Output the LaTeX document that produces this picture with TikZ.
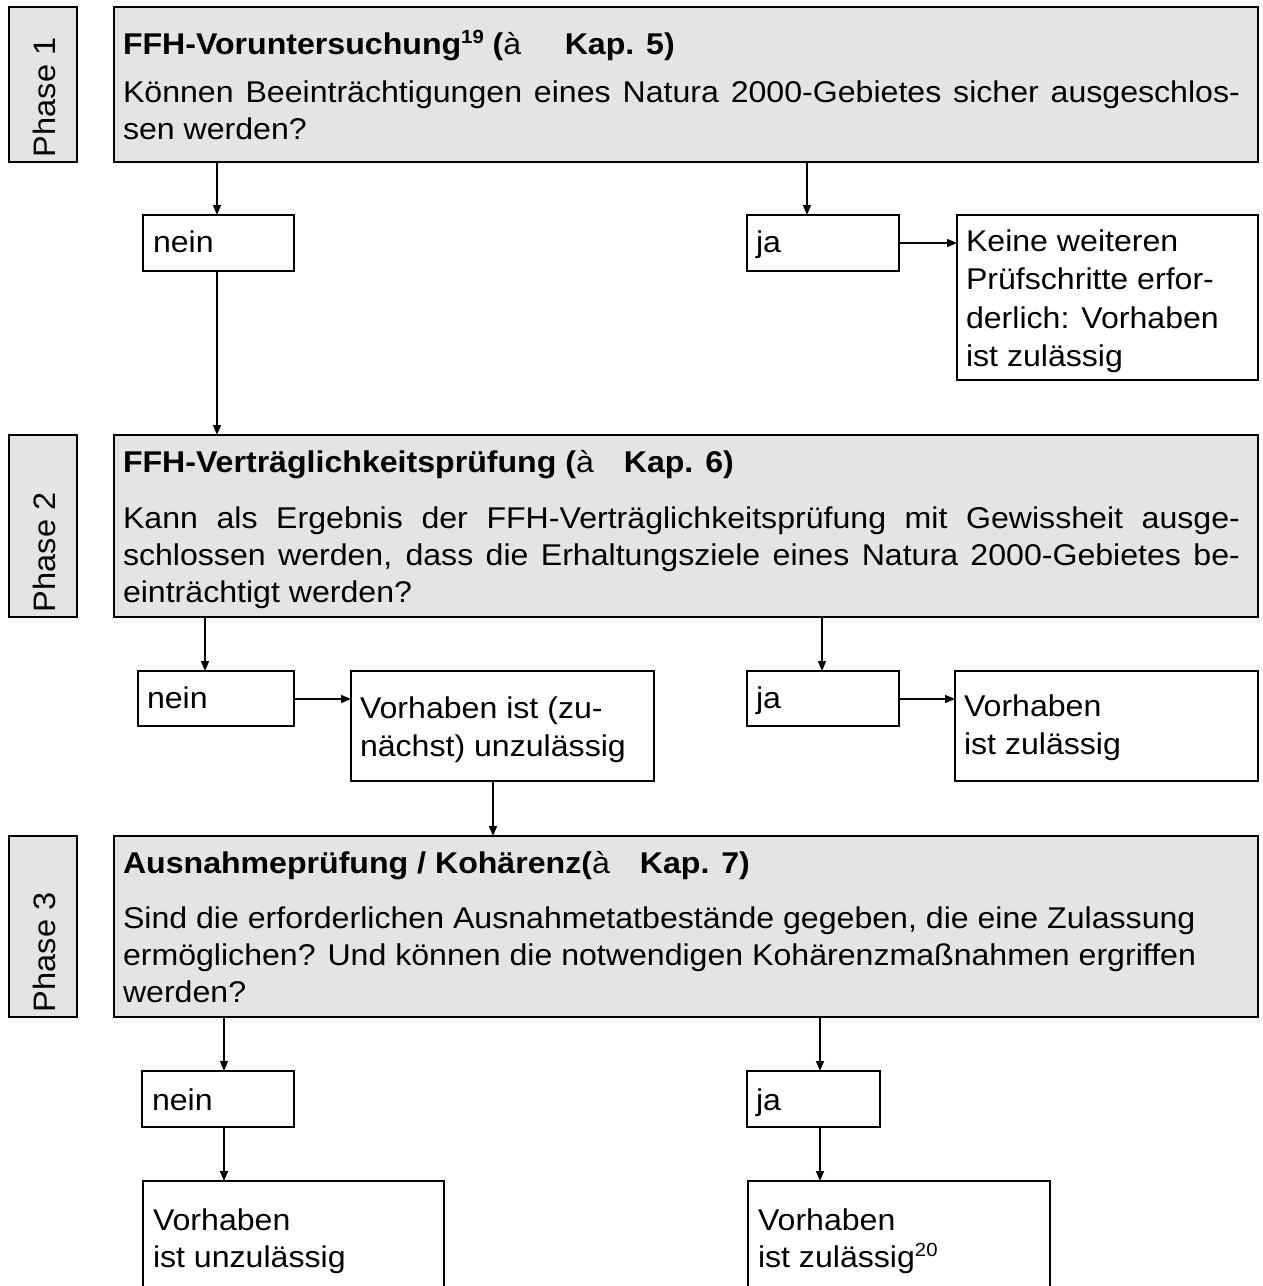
\documentclass[tikz,border=0pt]{standalone}
\usepackage{fontspec}
\setmainfont{Liberation Sans}[FakeStretch=1.07]
\newfontfamily\phasefont{Liberation Sans}[FakeStretch=1.05]
\usetikzlibrary{arrows.meta,calc}
\definecolor{boxgray}{RGB}{228,228,228}
\newcommand\txtsize{\fontsize{30}{37}\selectfont}
\newcommand\resline{\fontsize{30}{38.5}\selectfont}
\newcommand\supnum[1]{\raisebox{11pt}{\fontsize{19}{19}\selectfont #1}}
\newcommand\kap[2][1.0em]{(\textmd{à}\hspace{#1}Kap. #2)}
\tikzset{
  mainbox/.style={draw, line width=2.4pt, fill=boxgray, anchor=north west, inner sep=0pt, outer sep=0pt},
  smallbox/.style={draw, line width=1.8pt, fill=white, anchor=north west, inner sep=0pt, outer sep=0pt},
  openbox/.style={anchor=north west, inner sep=0pt, outer sep=0pt},
  boxline/.style={line width=1.8pt},
  txt/.style={anchor=base west, inner sep=0pt, outer sep=0pt, font=\txtsize},
  phaselbl/.style={rotate=90, anchor=base west, inner sep=0pt, outer sep=0pt, font=\phasefont\fontsize{31}{31}\selectfont},
  arr/.style={line width=1.6pt, -{Triangle[length=10pt,width=8pt]}}
}
\begin{document}
\begin{tikzpicture}[x=1pt,y=-1pt]
\fill[white] (0,0) rectangle (1263,1286);
\useasboundingbox (0,0) rectangle (1263,1286);

% ---------- Phase 1 ----------
\node[mainbox, minimum width=68pt, minimum height=155pt] (p1) at (9,7) {};
\node[phaselbl] (l1) at (55,157) {Phase 1};
\node[mainbox, minimum width=1144pt, minimum height=155pt] (b1) at (114,7) {};
\node[txt] (t1) at (123,54) {\bfseries FFH-Voruntersuchung\supnum{19} \kap[1.45em]{5}};
\node[txt] (q1) at (123,102) {\parbox[t]{1117pt}{\makebox[1117pt][s]{Können Beeinträchtigungen eines Natura 2000-Gebietes sicher ausgeschlos-}\\sen werden?}};

\node[smallbox, minimum width=151pt, minimum height=56pt] (n1) at (143,215) {};
\node[txt] (n1t) at (153,252) {nein};
\node[smallbox, minimum width=152pt, minimum height=56pt] (j1) at (747,215) {};
\node[txt] (j1t) at (756,252) {ja};
\node[smallbox, minimum width=301pt, minimum height=165pt] (r1) at (957,215) {};
\node[txt] (r1t) at (966,251) {\parbox[t]{290pt}{\resline\raggedright Keine weiteren\\Prüfschritte erfor-\\derlich: Vorhaben\\ist zulässig}};

% ---------- Phase 2 ----------
\node[mainbox, minimum width=68pt, minimum height=182pt] (p2) at (9,435) {};
\node[phaselbl] (l2) at (55,612) {Phase 2};
\node[mainbox, minimum width=1144pt, minimum height=182pt] (b2) at (114,435) {};
\node[txt] (t2) at (123,472) {\bfseries FFH-Verträglichkeitsprüfung \kap{6}};
\node[txt] (q2) at (123,528) {\parbox[t]{1117pt}{\makebox[1117pt][s]{Kann als Ergebnis der FFH-Verträglichkeitsprüfung mit Gewissheit ausge-}\\\makebox[1117pt][s]{schlossen werden, dass die Erhaltungsziele eines Natura 2000-Gebietes be-}\\einträchtigt werden?}};

\node[smallbox, minimum width=156pt, minimum height=55pt] (n2) at (138,671) {};
\node[txt] (n2t) at (147,708) {nein};
\node[smallbox, minimum width=303pt, minimum height=110pt] (r2a) at (351,671) {};
\node[txt] (r2at) at (360,718) {\parbox[t]{290pt}{\resline\raggedright Vorhaben ist (zu-\\nächst) unzulässig}};
\node[smallbox, minimum width=152pt, minimum height=55pt] (j2) at (747,671) {};
\node[txt] (j2t) at (756,708) {ja};
\node[smallbox, minimum width=303pt, minimum height=110pt] (r2b) at (955,671) {};
\node[txt] (r2bt) at (964,716) {\parbox[t]{290pt}{\resline\raggedright Vorhaben\\ist zulässig}};

% ---------- Phase 3 ----------
\node[mainbox, minimum width=68pt, minimum height=181pt] (p3) at (9,836) {};
\node[phaselbl] (l3) at (55,1012) {Phase 3};
\node[mainbox, minimum width=1144pt, minimum height=181pt] (b3) at (114,836) {};
\node[txt] (t3) at (123,873) {\bfseries Ausnahmeprüfung / Kohärenz\kap{7}};
\node[txt] (q3) at (123,928) {\parbox[t]{1117pt}{\raggedright Sind die erforderlichen Ausnahmetatbestände gegeben, die eine Zulassung\\ermöglichen? Und können die notwendigen Kohärenzmaßnahmen ergriffen\\werden?}};

\node[smallbox, minimum width=152pt, minimum height=56pt] (n3) at (142,1071) {};
\node[txt] (n3t) at (152,1110) {nein};
\node[smallbox, minimum width=133pt, minimum height=56pt] (j3) at (747,1071) {};
\node[txt] (j3t) at (756,1110) {ja};
\node[openbox, minimum width=301pt, minimum height=105pt] (r3a) at (143,1181) {};
\draw[boxline] (r3a.south west) -- (r3a.north west) -- (r3a.north east) -- (r3a.south east);
\node[txt] (r3at) at (153,1230) {\parbox[t]{290pt}{\raggedright Vorhaben\\ist unzulässig}};
\node[openbox, minimum width=302pt, minimum height=105pt] (r3b) at (748,1181) {};
\draw[boxline] (r3b.south west) -- (r3b.north west) -- (r3b.north east) -- (r3b.south east);
\node[txt] (r3bt) at (758,1230) {\parbox[t]{290pt}{\raggedright Vorhaben\\ist zulässig\supnum{20}}};

% ---------- connectors ----------
\coordinate (c1) at ($(n1.north west)+(74,0)$);
\draw[arr] (b1.south -| c1) -- (c1);
\coordinate (c2) at ($(j1.north west)+(60,0)$);
\draw[arr] (b1.south -| c2) -- (c2);
\coordinate (c3) at ($(r1.north west)+(0,28)$);
\draw[arr] (j1.east |- c3) -- (c3);
\draw[arr] (n1.south -| c1) -- (b2.north -| c1);

\coordinate (c4) at ($(n2.north west)+(67,0)$);
\draw[arr] (b2.south -| c4) -- (c4);
\coordinate (c5) at ($(j2.north west)+(75,0)$);
\draw[arr] (b2.south -| c5) -- (c5);
\coordinate (c6) at ($(r2a.north west)+(0,28)$);
\draw[arr] (n2.east |- c6) -- (c6);
\coordinate (c7) at ($(r2b.north west)+(0,28)$);
\draw[arr] (j2.east |- c7) -- (c7);
\coordinate (c8) at ($(r2a.south west)+(142,0)$);
\draw[arr] (c8) -- (b3.north -| c8);

\coordinate (c9) at ($(n3.north west)+(82,0)$);
\draw[arr] (b3.south -| c9) -- (c9);
\draw[arr] (n3.south -| c9) -- (r3a.north -| c9);
\coordinate (c10) at ($(j3.north west)+(73,0)$);
\draw[arr] (b3.south -| c10) -- (c10);
\draw[arr] (j3.south -| c10) -- (r3b.north -| c10);
\end{tikzpicture}
\end{document}
